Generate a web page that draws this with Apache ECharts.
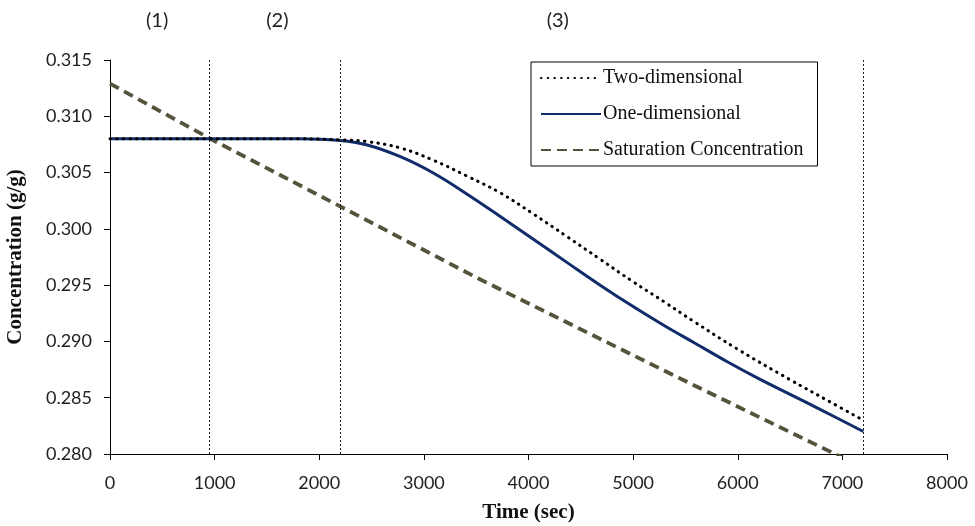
<!DOCTYPE html>
<html>
<head>
<meta charset="utf-8">
<script src="https://cdn.jsdelivr.net/npm/echarts@6/dist/echarts.min.js"></script>
<style>
  html, body { margin: 0; padding: 0; background: #fff; }
  #chart { width: 975px; height: 526px; }
</style>
</head>
<body>
<div id="chart"></div>
<script>
// Time samples (sec) and concentrations (g/g)
const timeTwoDim = [0, 1000, 1800, 2200, 2450, 2770, 3090, 3410, 3730, 4050, 4370, 4685, 5000, 5300, 5576, 6000, 6500, 6850, 7200];
const twoDim     = [0.3080, 0.3080, 0.3080, 0.3079, 0.30776, 0.3072, 0.3061, 0.3047, 0.3032, 0.3013, 0.2993, 0.2973, 0.2953, 0.2935, 0.2918, 0.2893, 0.2866, 0.2848, 0.2830];

const timeOneDim = [0, 1000, 1800, 2200, 2450, 2770, 3090, 3410, 3730, 4050, 4370, 4685, 5000, 5300, 5600, 5900, 6200, 6500, 6800, 7200];
const oneDim     = [0.3080, 0.3080, 0.3080, 0.30785, 0.30747, 0.30643, 0.30496, 0.30310, 0.30110, 0.29905, 0.2970, 0.2950, 0.2931, 0.2914, 0.2898, 0.2882, 0.2867, 0.2853, 0.2839, 0.2820];

const timeSat = [0, 960, 2200, 3540, 5450, 6930, 7200];
const satConc = [0.3129, 0.3080, 0.3020, 0.2955, 0.2867, 0.2800, 0.2788];

// Region boundaries and labels
const regionBounds = [950, 2200, 7200];
const regionLabels = ['(1)', '(2)', '(3)'];
const regionLabelTimes = [450, 1600, 4280];

const xTicks = { min: 0, max: 8000, interval: 1000 };
const yTicks = { min: 0.280, max: 0.315, interval: 0.005 };

const zip = (xs, ys) => xs.map((x, i) => [x, ys[i]]);

const serif = '"Liberation Serif", "Times New Roman", serif';
const sans = 'Lato, "Open Sans", sans-serif';

const chart = echarts.init(document.getElementById('chart'));
chart.setOption({
  animation: false,
  backgroundColor: '#fff',
  grid: { left: 110, right: 28, top: 60, bottom: 72, containLabel: false, outerBoundsMode: 'none' },
  legend: {
    orient: 'vertical',
    left: 531, top: 62,
    width: 287,
    padding: [6, 14, 6, 9],
    itemGap: 16,
    itemWidth: 60, itemHeight: 14,
    borderColor: '#000', borderWidth: 1,
    backgroundColor: '#fff',
    itemStyle: { opacity: 0 },
    textStyle: { fontFamily: serif, fontSize: 20, color: '#111', padding: [0, 10, 0, -3] },
    data: ['Two-dimensional', 'One-dimensional', 'Saturation Concentration']
  },
  xAxis: {
    type: 'value',
    min: xTicks.min, max: xTicks.max, interval: xTicks.interval,
    name: 'Time (sec)', nameLocation: 'middle', nameGap: 48,
    nameTextStyle: { fontFamily: serif, fontWeight: 'bold', fontSize: 21, color: '#111' },
    axisLine: { lineStyle: { color: '#000', width: 1 } },
    axisTick: { show: true, length: 6, lineStyle: { color: '#000' } },
    axisLabel: { fontFamily: sans, fontSize: 18, color: '#222', margin: 20,
                 formatter: v => String(v) },
    splitLine: { show: false }
  },
  yAxis: {
    type: 'value',
    min: yTicks.min, max: yTicks.max, interval: yTicks.interval,
    name: 'Concentration (g/g)', nameLocation: 'middle', nameGap: 84, nameRotate: 90,
    nameTextStyle: { fontFamily: serif, fontWeight: 'bold', fontSize: 21, color: '#111' },
    axisLine: { show: true, lineStyle: { color: '#000', width: 1 } },
    axisTick: { show: true, length: 6, lineStyle: { color: '#000' } },
    axisLabel: { fontFamily: sans, fontSize: 18, color: '#222', margin: 18,
                 formatter: v => v.toFixed(3) },
    splitLine: { show: false }
  },
  series: [
    {
      name: 'Saturation Concentration',
      type: 'line',
      data: zip(timeSat, satConc),
      symbol: 'none',
      clip: true,
      lineStyle: { color: '#55533c', width: 3.8, type: [10, 6] },
      itemStyle: { color: '#55533c' },
      z: 2
    },
    {
      name: 'One-dimensional',
      type: 'line',
      data: zip(timeOneDim, oneDim),
      symbol: 'none',
      smooth: 0.4,
      lineStyle: { color: '#112c6a', width: 3 },
      itemStyle: { color: '#112c6a' },
      z: 3
    },
    {
      name: 'Two-dimensional',
      type: 'line',
      data: zip(timeTwoDim, twoDim),
      symbol: 'none',
      smooth: 0.4,
      lineStyle: { color: '#000', width: 3, type: [0.5, 6.2], cap: 'round' },
      itemStyle: { color: '#000' },
      z: 4
    },
    {
      name: 'regions',
      type: 'line',
      data: [],
      silent: true,
      markLine: {
        symbol: 'none',
        silent: true,
        label: { show: false },
        lineStyle: { color: '#222', width: 1, type: [2, 2] },
        data: regionBounds.map(x => ({ xAxis: x }))
      },
      markPoint: {
        symbol: 'circle',
        symbolSize: 0,
        silent: true,
        label: {
          show: true, position: 'inside', offset: [0, -39],
          fontFamily: sans, fontSize: 20, color: '#222',
          formatter: p => p.name
        },
        data: regionLabels.map((t, i) => ({ name: t, coord: [regionLabelTimes[i], yTicks.max] }))
      },
      z: 1
    }
  ]
});
</script>
</body>
</html>
